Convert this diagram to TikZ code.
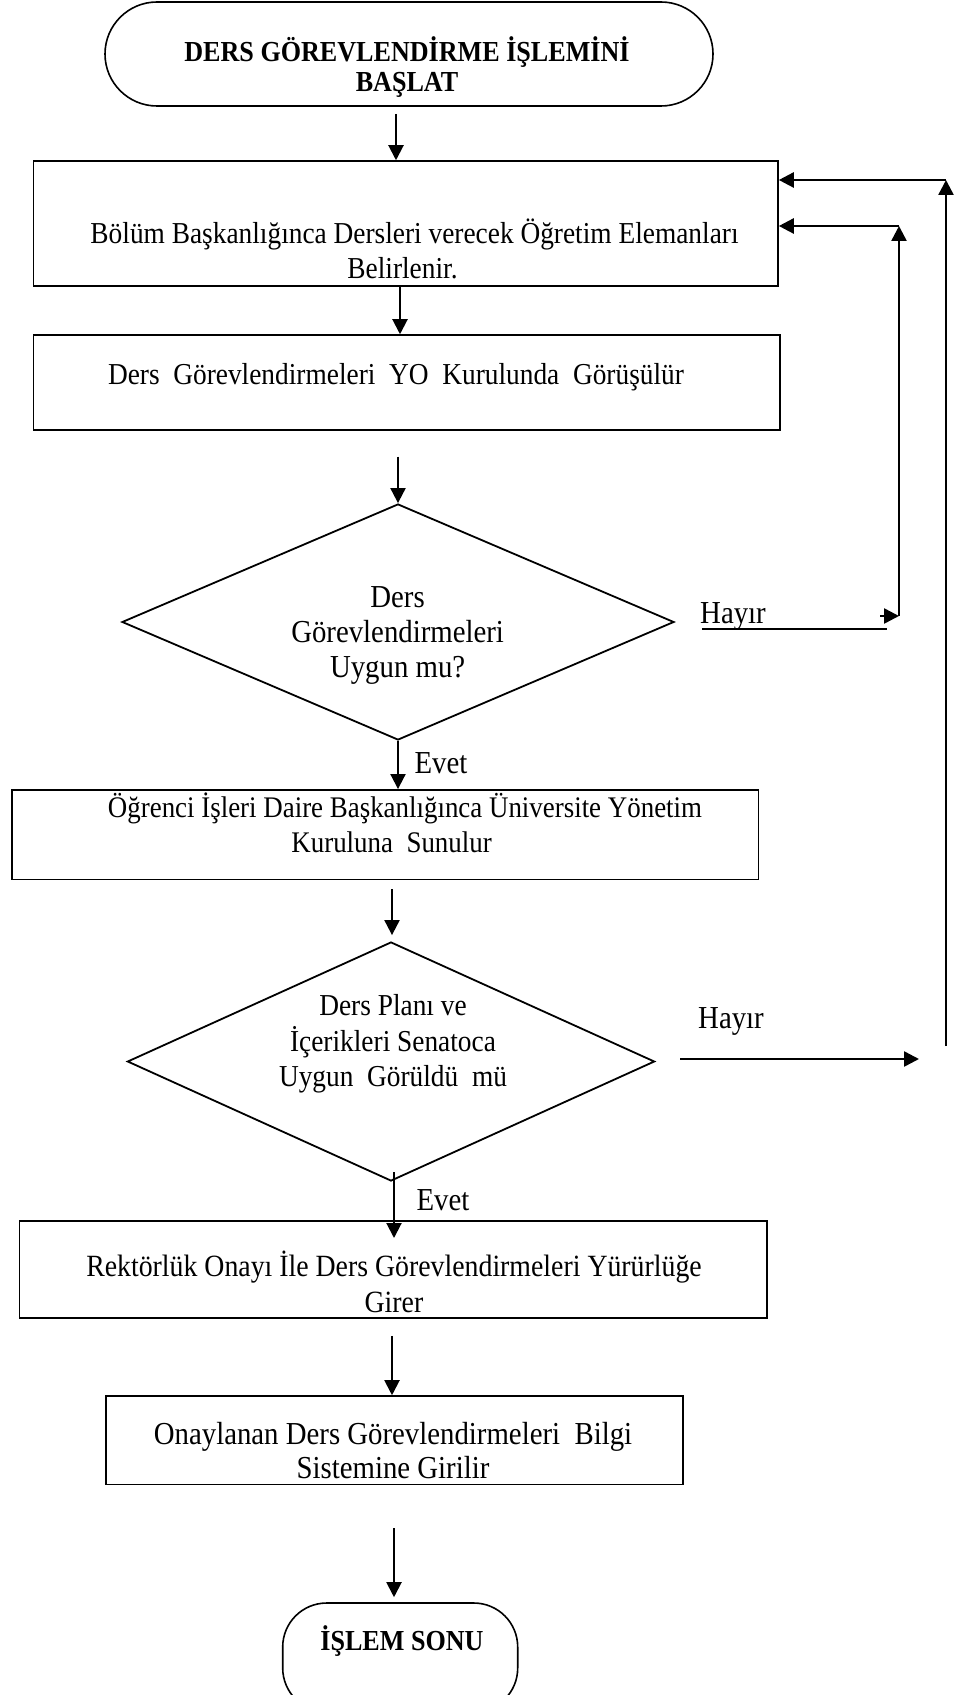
\documentclass[tikz,border=0pt]{standalone}
\usepackage{fontspec}
\setmainfont{Liberation Serif}[FakeStretch=0.9]
\usetikzlibrary{arrows.meta,shapes.geometric}
\begin{document}
\begin{tikzpicture}[x=0.5pt,y=-0.5pt,
 box/.style={draw,line width=0.75pt,inner sep=0pt,rectangle},
 term/.style={draw,line width=0.8pt,inner sep=0pt},
 dia/.style={draw,diamond,line width=0.9pt,inner sep=0pt},
 txt/.style={align=center,inner sep=0pt,font=\fontsize{15.2}{17.8}\selectfont},
 big/.style={align=center,inner sep=0pt,font=\fontsize{16}{17.6}\selectfont},
 btxt/.style={align=center,inner sep=0pt,font=\bfseries\fontsize{14.5}{15}\selectfont},
 arr/.style={line width=1pt,-{Triangle[length=7.5pt,width=7.5pt]}},
 fb/.style={line width=1.25pt},
 larr/.style={fb,-{Triangle[length=7.5pt,width=7.5pt]}}
]
\useasboundingbox (0,0) rectangle (954,1695);
\clip (0,0) rectangle (954,1695);
\fill[white] (0,0) rectangle (954,1695);

% shapes
\node[term,rounded corners=26pt,minimum width=304pt,minimum height=52pt] (start) at (409,54) {};
\node[btxt] (startt) at (407,67) {DERS GÖREVLENDİRME İŞLEMİNİ\\BAŞLAT};

\node[box,minimum width=372.25pt,minimum height=62.5pt] (b1) at (405.8,223.5) {};
\node[txt] (b1t) at (414.5,249) {Bölüm Başkanlığınca Dersleri verecek Öğretim Elemanları\\Belirlenir.\hspace*{12pt}};

\node[box,minimum width=373.25pt,minimum height=47.5pt] (b2) at (406.8,382.5) {};
\node[txt] (b2t) at (396,377.3) {Ders\ \ Görevlendirmeleri\ \ YO\ \ Kurulunda\ \ Görüşülür};

\node[dia,minimum width=276pt,minimum height=118pt] (d1) at (398,622) {};
\node[big] (d1t) at (397.6,635.3) {Ders\\Görevlendirmeleri\\Uygun mu?};

\node[box,minimum width=373.25pt,minimum height=44.8pt] (b3) at (385.2,834.6) {};
\node[txt,font=\fontsize{14.95}{17.8}\selectfont] (b3t) at (405,823) {Öğrenci İşleri Daire Başkanlığınca Üniversite Yönetim\\Kuruluna\ \ Sunulur\hspace*{13.4pt}};

\node[dia,minimum width=263.6pt,minimum height=119.5pt] (d2) at (391,1061.5) {};
\node[txt] (d2t) at (393,1044) {Ders Planı ve\\İçerikleri Senatoca\\Uygun\ \ Görüldü\ \ mü};

\node[box,minimum width=373.8pt,minimum height=48.55pt] (b4) at (393.2,1269.5) {};
\node[txt,font=\fontsize{15.45}{17.8}\selectfont] (b4t) at (394,1282) {Rektörlük Onayı İle Ders Görevlendirmeleri Yürürlüğe\\Girer};

\node[box,minimum width=288.45pt,minimum height=44.25pt] (b5) at (394.3,1440.2) {};
\node[big,font=\fontsize{16}{16.8}\selectfont] (b5t) at (393,1450.5) {Onaylanan Ders Görevlendirmeleri\ \ Bilgi\\Sistemine Girilir};

\node[term,rounded corners=22pt,minimum width=117.5pt,minimum height=54.5pt] (end) at (400.2,1657.5) {};
\node[btxt] (endt) at (402,1641) {İŞLEM SONU};

% labels
\node[big] (hay1) at (733,616.5) {Hayır};
\node[big] (hay2) at (731,1021) {Hayır};
\node[big] (ev1) at (441,763) {Evet};
\node[big] (ev2) at (443,1200) {Evet};

% main arrows
\draw[arr,shorten <=3.5pt] (start.south -| 396,0) -- (b1.north -| 396,0);
\draw[arr] (b1.south -| 400,0) -- (b2.north -| 400,0);
\draw[arr,shorten <=13pt] (b2.south -| 398,0) -- (d1.north);
\draw[arr] (d1.south) -- (b3.north -| d1.south);
\draw[arr,shorten <=4.5pt,shorten >=3pt] (b3.south -| 392,0) -- (d2.north -| 392,0);
\coordinate (e2s) at (394,1172);
\coordinate (e2e) at (394,1238);
\draw[arr] (e2s) -- (e2e);
\draw[arr,shorten <=8.5pt] (b4.south -| 392,0) -- (b5.north -| 392,0);
\draw[arr,shorten <=21.5pt,shorten >=2.5pt] (b5.south -| 394,0) -- (end.north -| 394,0);

% inner feedback loop
\coordinate (h1a) at (702,629);
\coordinate (h1b) at (887,629);
\coordinate (v1s) at (880,616);
\coordinate (v1b) at (899,616);
\coordinate (v1t) at (899,226);
\draw[fb] (h1a) -- (h1b);
\draw[larr] (v1s) -- (v1b);
\draw[larr] (v1b) -- (v1t);
\draw[larr] (v1t) -- (b1.east |- v1t);

% outer feedback loop
\coordinate (h2a) at (680,1059);
\coordinate (h2b) at (919,1059);
\coordinate (v2b) at (946,1046);
\coordinate (v2t) at (946,180);
\draw[larr] (h2a) -- (h2b);
\draw[larr] (v2b) -- (v2t);
\draw[larr] (v2t) -- (b1.east |- v2t);
\end{tikzpicture}
\end{document}
